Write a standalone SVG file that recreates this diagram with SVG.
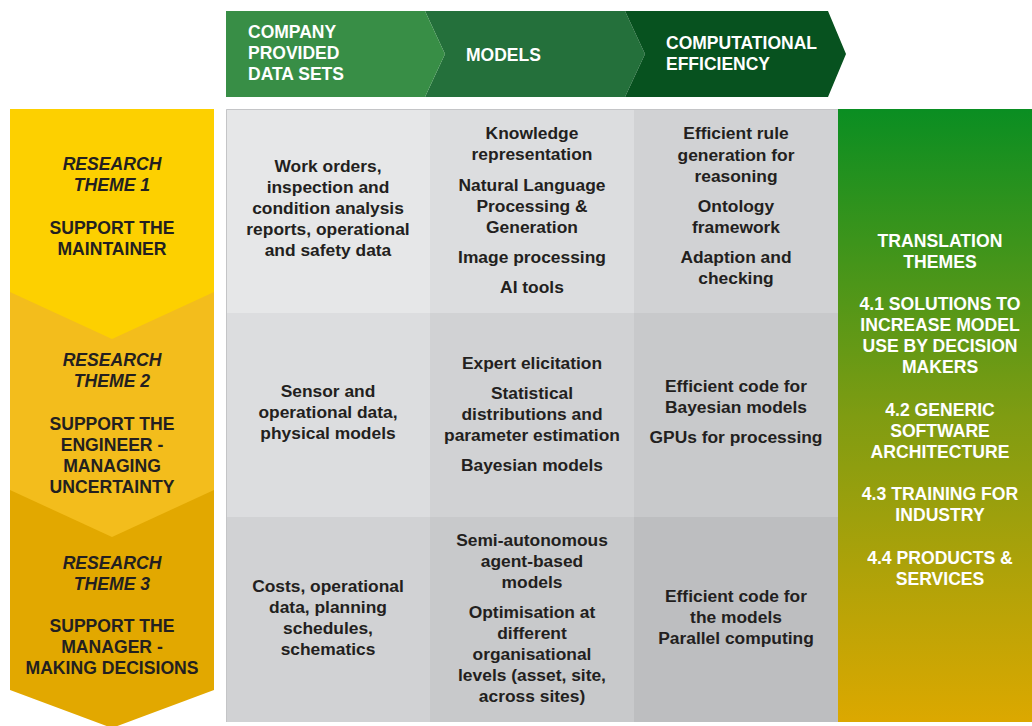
<svg xmlns="http://www.w3.org/2000/svg" width="1032" height="726" viewBox="0 0 1032 726">
<defs>
<linearGradient id="gr" x1="0" y1="0" x2="0" y2="1">
<stop offset="0" stop-color="#0a8e22"/>
<stop offset="0.5" stop-color="#7f9c12"/>
<stop offset="1" stop-color="#dca800"/>
</linearGradient>
<style>
text{font-family:"Liberation Sans",Arial,sans-serif;font-weight:bold;text-anchor:middle}
.h{fill:#fff;font-size:17.5px;text-anchor:start}
.y{fill:#231f20;font-size:17.6px}
.yi{fill:#231f20;font-size:17.6px;font-style:italic}
.w{fill:#fff;font-size:17.6px}
.c{fill:#231f20;font-size:17.4px}
</style>
</defs>
<rect width="1032" height="726" fill="#fff"/>
<g id="header">
<g id="h-models"><polygon points="425,11 625,11 645,54 625,97 425,97 445,54" fill="#24703b"/>
<text class="h" x="466" y="61">MODELS</text></g>
<g id="h-comp"><polygon points="625,11 828,11 846,54 828,97 625,97 645,54" fill="#07521f"/>
<text class="h" x="666" y="49">COMPUTATIONAL</text><text class="h" x="666" y="70">EFFICIENCY</text></g>
<g id="h-data"><polygon points="226,11 425,11 445,54 425,97 226,97" fill="#388e46"/>
<text class="h" x="248" y="38">COMPANY</text><text class="h" x="248" y="59">PROVIDED</text><text class="h" x="248" y="80">DATA SETS</text></g>
</g>
<g id="themes">
<g id="theme3"><polygon points="10,480 214,480 214,690 112,728 10,690" fill="#e2a800"/>
<text class="yi" x="112" y="569">RESEARCH</text><text class="yi" x="112" y="590">THEME 3</text>
<text class="y" x="112" y="632">SUPPORT THE</text><text class="y" x="112" y="653">MANAGER -</text><text class="y" x="112" y="674">MAKING DECISIONS</text></g>
<g id="theme2"><polygon points="10,285 214,285 214,490 112,537 10,490" fill="#f3bd1c"/>
<text class="yi" x="112" y="366">RESEARCH</text><text class="yi" x="112" y="387">THEME 2</text>
<text class="y" x="112" y="430">SUPPORT THE</text><text class="y" x="112" y="451">ENGINEER -</text><text class="y" x="112" y="472">MANAGING</text><text class="y" x="112" y="493">UNCERTAINTY</text></g>
<g id="theme1"><polygon points="10,109 214,109 214,292 112,339 10,292" fill="#fdd000"/>
<text class="yi" x="112" y="170">RESEARCH</text><text class="yi" x="112" y="191">THEME 1</text>
<text class="y" x="112" y="234">SUPPORT THE</text><text class="y" x="112" y="255">MAINTAINER</text></g>
</g>
<g id="grid">
<rect x="226" y="109" width="204" height="204" fill="#e6e7e8"/>
<rect x="430" y="109" width="204" height="204" fill="#dcdddf"/>
<rect x="634" y="109" width="204" height="204" fill="#d1d2d4"/>
<rect x="226" y="313" width="204" height="204" fill="#dcdddf"/>
<rect x="430" y="313" width="204" height="204" fill="#d1d2d4"/>
<rect x="634" y="313" width="204" height="204" fill="#c8c9cb"/>
<rect x="226" y="517" width="204" height="205" fill="#d1d2d4"/>
<rect x="430" y="517" width="204" height="205" fill="#c8c9cb"/>
<rect x="634" y="517" width="204" height="205" fill="#bdbec0"/>
<path d="M226.5,722 V109.5 H838" fill="none" stroke="#c4c5c7" stroke-width="1"/>
</g>
<g id="r1c1"><text class="c" x="328" y="172">Work orders,</text><text class="c" x="328" y="193">inspection and</text><text class="c" x="328" y="214">condition analysis</text><text class="c" x="328" y="235">reports, operational</text><text class="c" x="328" y="256">and safety data</text></g>
<g id="r1c2"><text class="c" x="532" y="139">Knowledge</text><text class="c" x="532" y="160">representation</text><text class="c" x="532" y="191">Natural Language</text><text class="c" x="532" y="212">Processing &amp;</text><text class="c" x="532" y="233">Generation</text><text class="c" x="532" y="263">Image processing</text><text class="c" x="532" y="293">AI tools</text></g>
<g id="r1c3"><text class="c" x="736" y="139">Efficient rule</text><text class="c" x="736" y="161">generation for</text><text class="c" x="736" y="182">reasoning</text><text class="c" x="736" y="212">Ontology</text><text class="c" x="736" y="233">framework</text><text class="c" x="736" y="263">Adaption and</text><text class="c" x="736" y="284">checking</text></g>
<g id="r2c1"><text class="c" x="328" y="397">Sensor and</text><text class="c" x="328" y="418">operational data,</text><text class="c" x="328" y="439">physical models</text></g>
<g id="r2c2"><text class="c" x="532" y="369">Expert elicitation</text><text class="c" x="532" y="399">Statistical</text><text class="c" x="532" y="420">distributions and</text><text class="c" x="532" y="441">parameter estimation</text><text class="c" x="532" y="471">Bayesian models</text></g>
<g id="r2c3"><text class="c" x="736" y="392">Efficient code for</text><text class="c" x="736" y="413">Bayesian models</text><text class="c" x="736" y="443">GPUs for processing</text></g>
<g id="r3c1"><text class="c" x="328" y="592">Costs, operational</text><text class="c" x="328" y="613">data, planning</text><text class="c" x="328" y="634">schedules,</text><text class="c" x="328" y="655">schematics</text></g>
<g id="r3c2"><text class="c" x="532" y="546">Semi-autonomous</text><text class="c" x="532" y="567">agent-based</text><text class="c" x="532" y="588">models</text><text class="c" x="532" y="618">Optimisation at</text><text class="c" x="532" y="639">different</text><text class="c" x="532" y="660">organisational</text><text class="c" x="532" y="681">levels (asset, site,</text><text class="c" x="532" y="702">across sites)</text></g>
<g id="r3c3"><text class="c" x="736" y="602">Efficient code for</text><text class="c" x="736" y="623">the models</text><text class="c" x="736" y="644">Parallel computing</text></g>
<g id="translation"><rect x="838" y="109" width="194" height="613" fill="url(#gr)"/>
<text class="w" x="940" y="247">TRANSLATION</text><text class="w" x="940" y="268">THEMES</text>
<text class="w" x="940" y="310">4.1 SOLUTIONS TO</text><text class="w" x="940" y="331">INCREASE MODEL</text><text class="w" x="940" y="352">USE BY DECISION</text><text class="w" x="940" y="373">MAKERS</text>
<text class="w" x="940" y="416">4.2 GENERIC</text><text class="w" x="940" y="437">SOFTWARE</text><text class="w" x="940" y="458">ARCHITECTURE</text>
<text class="w" x="940" y="500">4.3 TRAINING FOR</text><text class="w" x="940" y="521">INDUSTRY</text>
<text class="w" x="940" y="564">4.4 PRODUCTS &amp;</text><text class="w" x="940" y="585">SERVICES</text></g>
<g id="connectors"/>
</svg>
